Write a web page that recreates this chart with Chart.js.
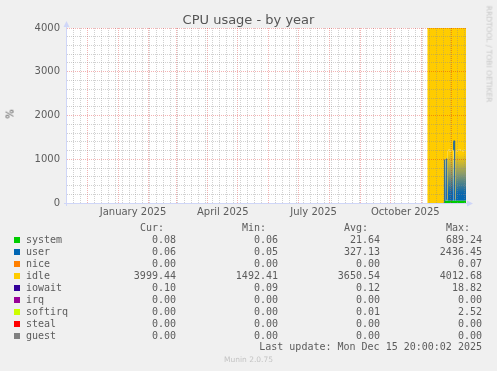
<!DOCTYPE html>
<html><head><meta charset="utf-8">
<script src="https://cdn.jsdelivr.net/npm/chart.js@4"></script>
<style>
html,body{margin:0;padding:0;background:#F0F0F0;}
#wrap{position:relative;width:497px;height:371px;overflow:hidden;background:#F0F0F0;}
canvas{position:absolute;left:0;top:0;}
.t{position:absolute;white-space:pre;color:#5c5c5c;font-family:'DejaVu Sans Mono',monospace;font-size:10px;line-height:12px;}
.sw{position:absolute;width:6px;height:6px;}
</style></head><body>
<div id="wrap"><canvas id="c" width="497" height="371"></canvas></div>
<script>
// ---- data ----
const categories = ['system','user','nice','idle','iowait','irq','softirq','steal','guest'];
const seriesColors = ['#00CC00','#0066B3','#FF8000','#FFCC00','#330099','#990099','#CCFF00','#FF0000','#808080'];
const dates = ['2025-11-07','2025-11-08','2025-11-09','2025-11-10','2025-11-11','2025-11-12','2025-11-13','2025-11-14',
  '2025-11-15','2025-11-16','2025-11-17','2025-11-18','2025-11-19','2025-11-20','2025-11-21','2025-11-22','2025-11-23',
  '2025-11-24','2025-11-25','2025-11-26','2025-11-27','2025-11-28','2025-11-29','2025-11-30','2025-12-01','2025-12-02',
  '2025-12-03','2025-12-04','2025-12-05','2025-12-06','2025-12-07','2025-12-08','2025-12-09','2025-12-10','2025-12-11',
  '2025-12-12','2025-12-13','2025-12-14','2025-12-15','2025-12-15T20:00:00Z'];
const system = [0.08,0.08,0.08,0.08,0.08,0.08,0.08,0.08,0.08,0.08,0.08,0.08,0.08,0.08,0.08,0.08,0.08,0.08,
  50,50,50,50,50,50,50,50,50,50,50,50,50,50,50,50,50,50,50,50,50,50];
const user = [0.06,0.06,0.06,0.06,0.06,0.06,0.06,0.06,0.06,0.06,0.06,0.06,0.06,0.06,0.06,0.06,0.06,0.06,
  940,960,30,1150,1180,1120,1160,1140,1170,1370,30,1160,1130,1170,1150,1180,1140,1160,1120,1170,1150,1150];
const nice = [0,0,0,0,0,0,0,0,0,0,0,0,0,0,0,0,0,0,0,0,0,0,0,0,0,0,0,0,0,0,0,0,0,0,0,0,0,0,0,0];
const idle = [3999.4,3999.4,3999.4,3999.4,3999.4,3999.4,3999.4,3999.4,3999.4,3999.4,3999.4,3999.4,3999.4,3999.4,3999.4,3999.4,3999.4,3999.4,
  3010,2990,3920,2800,2770,2830,2790,2810,2780,2580,3920,2790,2820,2780,2800,2770,2810,2790,2830,2780,2800,2800];
const iowait = [0.1,0.1,0.1,0.1,0.1,0.1,0.1,0.1,0.1,0.1,0.1,0.1,0.1,0.1,0.1,0.1,0.1,0.1,0.1,0.1,
  0.1,0.1,0.1,0.1,0.1,0.1,0.1,0.1,0.1,0.1,0.1,0.1,0.1,0.1,0.1,0.1,0.1,0.1,0.1,0.1];
const irq = [0,0,0,0,0,0,0,0,0,0,0,0,0,0,0,0,0,0,0,0,0,0,0,0,0,0,0,0,0,0,0,0,0,0,0,0,0,0,0,0];
const softirq = [0.01,0.01,0.01,0.01,0.01,0.01,0.01,0.01,0.01,0.01,0.01,0.01,0.01,0.01,0.01,0.01,0.01,0.01,0.01,0.01,
  0.01,0.01,0.01,0.01,0.01,0.01,0.01,0.01,0.01,0.01,0.01,0.01,0.01,0.01,0.01,0.01,0.01,0.01,0.01,0.01];
const steal = [0,0,0,0,0,0,0,0,0,0,0,0,0,0,0,0,0,0,0,0,0,0,0,0,0,0,0,0,0,0,0,0,0,0,0,0,0,0,0,0];
const guest = [0,0,0,0,0,0,0,0,0,0,0,0,0,0,0,0,0,0,0,0,0,0,0,0,0,0,0,0,0,0,0,0,0,0,0,0,0,0,0,0];
const yTicks = [0,1000,2000,3000,4000];
const xLabels = ['January 2025','April 2025','July 2025','October 2025'];
const xLabelDates = ['2025-01-16','2025-04-16','2025-07-16','2025-10-16'];
const rangeStart = '2024-11-10T20:00:02Z';
const rangeEnd = '2025-12-15T20:00:02Z';
const legendCur = ['0.08','0.06','0.00','3999.44','0.10','0.00','0.00','0.00','0.00'];
const legendMin = ['0.06','0.05','0.00','1492.41','0.09','0.00','0.00','0.00','0.00'];
const legendAvg = ['21.64','327.13','0.00','3650.54','0.12','0.00','0.01','0.00','0.00'];
const legendMax = ['689.24','2436.45','0.07','4012.68','18.82','0.00','2.52','0.00','0.00'];
const lastUpdate = 'Last update: Mon Dec 15 20:00:02 2025';

// ---- build ----
const series = [system,user,nice,idle,iowait,irq,softirq,steal,guest];
const t = d => Date.parse(d.length === 10 ? d + 'T00:00:00Z' : d);
const xs = dates.map(t);
const xMin = t(rangeStart), xMax = t(rangeEnd);
const DAY = 86400000;
const labelTimes = xLabelDates.map(t);
const monthTimes = [];
for (let y = 2024; y <= 2025; y++) for (let m = 0; m < 12; m++) {
  const v = Date.UTC(y, m, 1); if (v > xMin && v < xMax) monthTimes.push(v);
}
const weekTimes = [];
for (let v = Date.UTC(2024, 10, 17); v < xMax; v += 7 * DAY) if (!monthTimes.includes(v)) weekTimes.push(v);

const MAJOR = 'rgba(215,0,0,0.30)';
const MINOR = 'rgba(140,140,140,0.40)';

function userFill(ctx) {
  const chart = ctx.chart;
  if (!chart.chartArea) return '#0066B3';
  const y = chart.scales.y;
  const y0 = y.getPixelForValue(0), y1 = y.getPixelForValue(1120);
  const g = chart.ctx.createLinearGradient(0, y0, 0, y1);
  g.addColorStop(0, '#0066B3');
  g.addColorStop(0.2, '#0a68ae');
  g.addColorStop(0.6, '#8c9c68');
  g.addColorStop(1, '#FFCC00');
  return g;
}

const datasets = categories.map((name, i) => ({
  label: name,
  data: xs.map((x, k) => ({x, y: series[i][k]})),
  backgroundColor: i === 1 ? userFill : seriesColors[i],
  borderColor: i === 6 ? seriesColors[6] : 'rgba(0,0,0,0)',
  borderWidth: i === 1 ? 1 : (i === 6 ? 1.5 : 0),
  fill: i === 0 ? 'origin' : '-1',
  pointRadius: 0,
  pointHoverRadius: 0,
  stepped: 'middle',
  segment: i === 1 ? {
    borderColor: c => {
      const a = c.p0.parsed.y, b = c.p1.parsed.y;
      return (a > 1300 || b > 1300 || (a > 500 && b < 100) || (a < 1 && b > 500)) ? '#0b5a9e' : 'rgba(0,0,0,0)';
    }
  } : undefined
}));

const muninPlugin = {
  id: 'munin',
  beforeDraw(chart) {
    const {ctx, chartArea: a} = chart;
    ctx.save();
    ctx.fillStyle = '#FFFFFF';
    ctx.fillRect(a.left, a.top, a.right - a.left, a.bottom - a.top);
    ctx.restore();
  },
  afterDraw(chart) {
    const {ctx, chartArea: a} = chart;
    ctx.save();
    ctx.strokeStyle = '#CFD6F8'; ctx.fillStyle = '#CFD6F8'; ctx.lineWidth = 1;
    ctx.beginPath();
    ctx.moveTo(a.left - 3, a.bottom + 0.5); ctx.lineTo(a.right + 2, a.bottom + 0.5);
    ctx.moveTo(a.left - 0.5, a.bottom + 3); ctx.lineTo(a.left - 0.5, a.top - 3);
    ctx.stroke();
    ctx.beginPath();
    ctx.moveTo(a.right + 7, a.bottom + 0.5); ctx.lineTo(a.right + 1, a.bottom - 2.5); ctx.lineTo(a.right + 1, a.bottom + 3.5);
    ctx.closePath(); ctx.fill();
    ctx.beginPath();
    ctx.moveTo(a.left - 0.5, a.top - 7); ctx.lineTo(a.left - 3.5, a.top - 1); ctx.lineTo(a.left + 2.5, a.top - 1);
    ctx.closePath(); ctx.fill();
    ctx.restore();
  }
};

Chart.defaults.font.family = "'DejaVu Sans'";
Chart.defaults.font.size = 10;
Chart.defaults.color = '#5c5c5c';

new Chart(document.getElementById('c'), {
  type: 'line',
  data: {datasets},
  options: {
    responsive: false,
    animation: false,
    devicePixelRatio: 1,
    layout: {padding: {top: 28, right: 31, left: 0, bottom: 0}},
    plugins: {legend: {display: false}, tooltip: {enabled: false}, title: {display: false}},
    scales: {
      x: {
        type: 'linear', min: xMin, max: xMax, bounds: 'data',
        afterBuildTicks: s => {
          s.ticks = [...monthTimes, ...weekTimes, ...labelTimes].sort((p, q) => p - q).map(v => ({value: v}));
        },
        afterFit: s => { s.height = 168; },
        ticks: {
          autoSkip: false, maxRotation: 0, minRotation: 0, padding: 3,
          callback: v => { const i = labelTimes.indexOf(v); return i >= 0 ? xLabels[i] : ''; }
        },
        grid: {
          z: 1, drawTicks: false, lineWidth: 1,
          color: c => {
            const v = c.tick && c.tick.value;
            if (labelTimes.includes(v)) return 'rgba(0,0,0,0)';
            return monthTimes.includes(v) ? MAJOR : MINOR;
          }
        },
        border: {display: false, dash: [1, 1]}
      },
      y: {
        type: 'linear', stacked: true, min: 0, max: 4000,
        afterFit: s => { s.width = 67; },
        ticks: {
          stepSize: 200, autoSkip: false, padding: 7,
          callback: v => yTicks.includes(v) ? String(v) : ''
        },
        grid: {
          z: 1, drawTicks: false, lineWidth: 1,
          color: c => (c.tick && yTicks.includes(c.tick.value)) ? MAJOR : MINOR
        },
        border: {display: false, dash: [1, 1]}
      }
    }
  },
  plugins: [muninPlugin]
});

// ---- text overlays ----
const wrap = document.getElementById('wrap');
function add(text, style, cls) {
  const d = document.createElement('div');
  if (cls) d.className = cls;
  d.textContent = text;
  Object.assign(d.style, {position: 'absolute'}, style);
  wrap.appendChild(d);
  return d;
}
add('CPU usage - by year', {left: '0px', width: '497px', top: '12px', textAlign: 'center',
  font: "13px 'DejaVu Sans'", lineHeight: '15px', color: '#555'});
add('%', {left: '10px', top: '114px', transform: 'translate(-50%,-50%) rotate(-90deg)',
  font: "10px 'DejaVu Sans'", color: '#5c5c5c', whiteSpace: 'nowrap'});
add('RRDTOOL / TOBI OETIKER', {left: '488.5px', top: '53.5px', transform: 'translate(-50%,-50%) rotate(90deg)',
  font: "7.5px 'DejaVu Sans'", color: '#c8c8c8', whiteSpace: 'nowrap'});
add('Munin 2.0.75', {left: '0px', width: '497px', top: '355px', textAlign: 'center',
  font: "7.5px 'DejaVu Sans'", lineHeight: '9px', color: '#c4c4c4'});

const headers = ['Cur:', 'Min:', 'Avg:', 'Max:'];
const valueRight = [176, 278, 380, 482];
headers.forEach((h, j) => add(h, {right: (497 - valueRight[j] + 12) + 'px', top: '222px'}, 't'));
const cols = [legendCur, legendMin, legendAvg, legendMax];
categories.forEach((name, i) => {
  const top = 234 + 12 * i;
  add('', {left: '14px', top: (top + 3) + 'px', background: seriesColors[i]}, 'sw');
  add(name, {left: '26px', top: top + 'px'}, 't');
  cols.forEach((col, j) => add(col[i], {right: (497 - valueRight[j]) + 'px', top: top + 'px'}, 't'));
});
add(lastUpdate, {right: '15px', top: '341px'}, 't');
</script>
</body></html>
